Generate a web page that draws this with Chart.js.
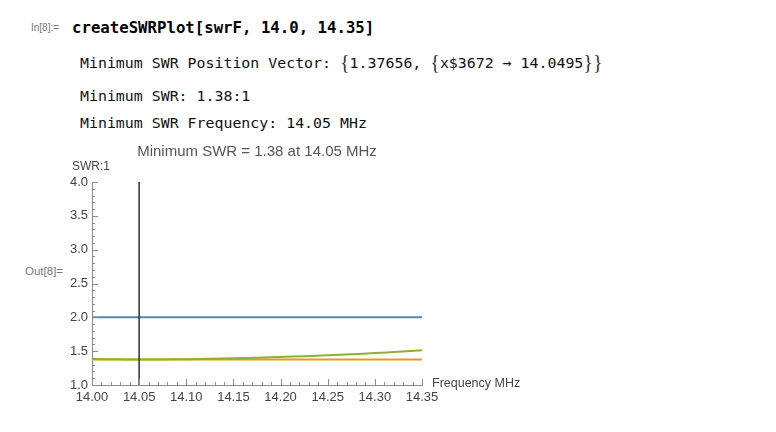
<!DOCTYPE html>
<html>
<head>
<meta charset="utf-8">
<script src="https://cdn.jsdelivr.net/npm/chart.js@4/dist/chart.umd.min.js"></script>
<style>
  body { margin:0; background:#fff; width:776px; height:432px; overflow:hidden; position:relative; font-family:"Liberation Sans", Arial, sans-serif; }
  #c { position:absolute; left:0; top:0; }
  .t { position:absolute; white-space:pre; }
  .lbl { font-family:"Liberation Sans", Arial, sans-serif; font-size:10px; color:#777; }
  .mono { font-family:"DejaVu Sans Mono", monospace; font-size:14.9px; color:#111; }
  .br { font-family:"Liberation Serif", serif; font-size:20px; font-weight:100; color:#333; position:relative; top:1px; }
</style>
</head>
<body>
<div class="t lbl" style="left:31px;top:22px;">In[8]:=</div>
<div class="t mono" style="left:72px;top:18px;font-weight:bold;font-size:15.7px;color:#000;">createSWRPlot[swrF, 14.0, 14.35]</div>
<div class="t mono" style="left:80px;top:50px;">Minimum SWR Position Vector: <span class="br">{</span>1.37656, <span class="br">{</span>x$3672 → 14.0495<span class="br">}}</span></div>
<div class="t mono" style="left:80px;top:87px;">Minimum SWR: 1.38:1</div>
<div class="t mono" style="left:80px;top:114px;">Minimum SWR Frequency: 14.05 MHz</div>
<div class="t lbl" style="left:25px;top:265px;font-size:11.5px;">Out[8]=</div>
<canvas id="c" width="776" height="432"></canvas>
<script>
// data
const greenFreq = [14.0, 14.025, 14.05, 14.075, 14.1, 14.125, 14.15, 14.175, 14.2, 14.225, 14.25, 14.275, 14.3, 14.325, 14.35];
const greenSwr  = [1.383, 1.379, 1.377, 1.378, 1.381, 1.387, 1.395, 1.404, 1.414, 1.426, 1.440, 1.455, 1.472, 1.492, 1.515];
const orangeFreq = [14.0, 14.35];
const orangeSwr  = [1.376, 1.376];
const blueFreq = [14.0, 14.35];
const blueSwr  = [2.0, 2.0];
const markFreq = [14.05, 14.05];
const markSwr  = [1.0, 4.0];
const xTicks = [14.0, 14.05, 14.1, 14.15, 14.2, 14.25, 14.3, 14.35];
const yTicks = [1.0, 1.5, 2.0, 2.5, 3.0, 3.5, 4.0];

const pts = (xs, ys) => xs.map((x, i) => ({ x: x, y: ys[i] }));
const axisCol = '#8a8a8a';
const txtCol = '#444';

// Mathematica-like inward ticks and axis titles
const decor = {
  id: 'decor',
  afterDraw(chart) {
    const ctx = chart.ctx, xs = chart.scales.x, ys = chart.scales.y;
    const a = chart.chartArea;
    ctx.save();
    ctx.strokeStyle = axisCol;
    ctx.lineWidth = 1;
    ctx.beginPath();
    for (let i = 0; i <= 35; i++) {
      const v = 14 + i / 100;
      const px = Math.round(xs.getPixelForValue(v)) + 0.5;
      const len = i % 5 === 0 ? 6 : 3;
      ctx.moveTo(px, a.bottom); ctx.lineTo(px, a.bottom - len);
    }
    for (let i = 0; i <= 30; i++) {
      const v = 1 + i / 10;
      const py = Math.round(ys.getPixelForValue(v)) + 0.5;
      const len = i % 5 === 0 ? 6 : 3;
      ctx.moveTo(a.left, py); ctx.lineTo(a.left + len, py);
    }
    ctx.stroke();
    ctx.fillStyle = '#555';
    ctx.font = '15px "Liberation Sans", Arial, sans-serif';
    ctx.textAlign = 'center'; ctx.textBaseline = 'middle';
    ctx.fillText('Minimum SWR = 1.38 at 14.05 MHz', (a.left + a.right) / 2, 152);
    ctx.fillStyle = txtCol;
    ctx.font = '12px "Liberation Sans", Arial, sans-serif';
    ctx.textAlign = 'left';
    ctx.fillText('SWR:1', a.left - 20, a.top - 15);
    ctx.font = '12.5px "Liberation Sans", Arial, sans-serif';
    ctx.fillText('Frequency MHz', a.right + 10, a.bottom - 1);
    ctx.restore();
  }
};

const line = (data, color, w) => ({
  data: data, borderColor: color, borderWidth: w, pointRadius: 0,
  showLine: true, fill: false, tension: 0.3
});

new Chart(document.getElementById('c').getContext('2d'), {
  type: 'scatter',
  data: {
    datasets: [
      line(pts(markFreq, markSwr), '#3a3a3a', 1.6),
      line(pts(greenFreq, greenSwr), '#8FB032', 2),
      line(pts(orangeFreq, orangeSwr), '#E19C24', 2),
      line(pts(blueFreq, blueSwr), '#5E81B5', 2)
    ]
  },
  plugins: [decor],
  options: {
    responsive: false,
    animation: false,
    layout: { padding: { left: 52, right: 354, top: 182, bottom: 17 } },
    plugins: { legend: { display: false }, tooltip: { enabled: false }, title: { display: false } },
    scales: {
      x: {
        type: 'linear', min: 14.0, max: 14.35,
        afterBuildTicks: s => { s.ticks = xTicks.map(v => ({ value: v })); },
        afterFit: s => { s.height = 30; s.paddingLeft = 0; s.paddingRight = 0; },
        grid: { display: false },
        border: { display: true, color: axisCol, width: 1 },
        ticks: { padding: -3, color: txtCol, font: { size: 13, family: '"Liberation Sans", Arial, sans-serif' },
                 maxRotation: 0, autoSkip: false, callback: v => v.toFixed(2) }
      },
      y: {
        type: 'linear', min: 1.0, max: 4.0,
        afterBuildTicks: s => { s.ticks = yTicks.map(v => ({ value: v })); },
        afterFit: s => { s.width = 40; s.paddingTop = 0; s.paddingBottom = 0; },
        grid: { display: false },
        border: { display: true, color: axisCol, width: 1 },
        ticks: { padding: -4, color: txtCol, font: { size: 13, family: '"Liberation Sans", Arial, sans-serif' },
                 autoSkip: false, callback: v => v.toFixed(1) }
      }
    }
  }
});
</script>
</body>
</html>
